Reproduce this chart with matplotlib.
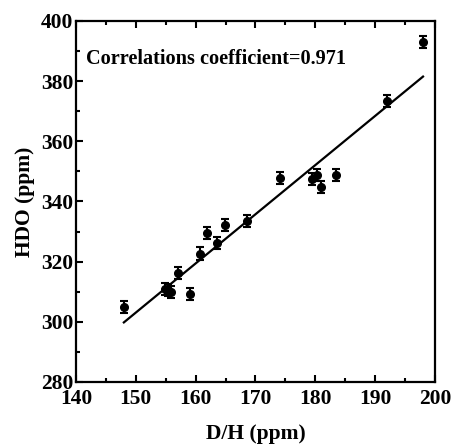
import matplotlib
matplotlib.use("Agg")
import matplotlib.pyplot as plt
from matplotlib.ticker import MultipleLocator

plt.rcParams['font.family'] = ['Liberation Serif', 'DejaVu Serif']
plt.rcParams['font.weight'] = 'bold'

dh = [148.0, 154.9, 155.4, 155.9, 157.0, 159.0, 160.8, 161.9, 163.5, 164.9,
      168.6, 174.1, 179.5, 180.3, 180.9, 183.5, 192.0, 198.0]
hdo = [305.0, 310.9, 310.7, 309.9, 316.3, 309.1, 322.7, 329.6, 326.2, 332.1,
       333.6, 347.8, 347.6, 348.7, 344.9, 348.7, 373.4, 392.9]
err = [2.0] * len(dh)
fit_x = [148.0, 198.0]
fit_y = [299.8, 381.5]

fig = plt.figure(figsize=(4.51, 4.45), dpi=100)
ax = fig.add_axes([0.1685, 0.1416, 0.7960, 0.8114])

ax.errorbar(dh, hdo, yerr=err, fmt='o', color='black', ms=5.5, elinewidth=1.5,
            capsize=3, capthick=1.5)
ax.plot(fit_x, fit_y, color='black', lw=1.6)

ax.set_xlim(140, 200)
ax.set_ylim(280, 400)
ax.xaxis.set_major_locator(MultipleLocator(10))
ax.xaxis.set_minor_locator(MultipleLocator(5))
ax.yaxis.set_major_locator(MultipleLocator(20))
ax.yaxis.set_minor_locator(MultipleLocator(10))
ax.tick_params(axis='both', which='major', direction='in', length=5, width=1.5,
               labelsize=15.5, pad=2)
ax.tick_params(axis='x', which='major', pad=5)
ax.tick_params(axis='both', which='minor', direction='in', length=3, width=1.5)
ax.tick_params(axis='x', which='both', top=True)
ax.tick_params(axis='y', which='both', right=False)
for lab in ax.get_xticklabels() + ax.get_yticklabels():
    lab.set_fontweight('bold')
for s in ax.spines.values():
    s.set_linewidth(1.6)

ax.set_xlabel('D/H (ppm)', fontsize=15.5, fontweight='bold', labelpad=11)
ax.set_ylabel('HDO (ppm)', fontsize=15.5, fontweight='bold', labelpad=4)
ax.text(0.028, 0.895, 'Correlations coefficient=0.971', transform=ax.transAxes,
        fontsize=14.6, fontweight='bold', va='center', ha='left')

fig.savefig('out.png', dpi=100)
